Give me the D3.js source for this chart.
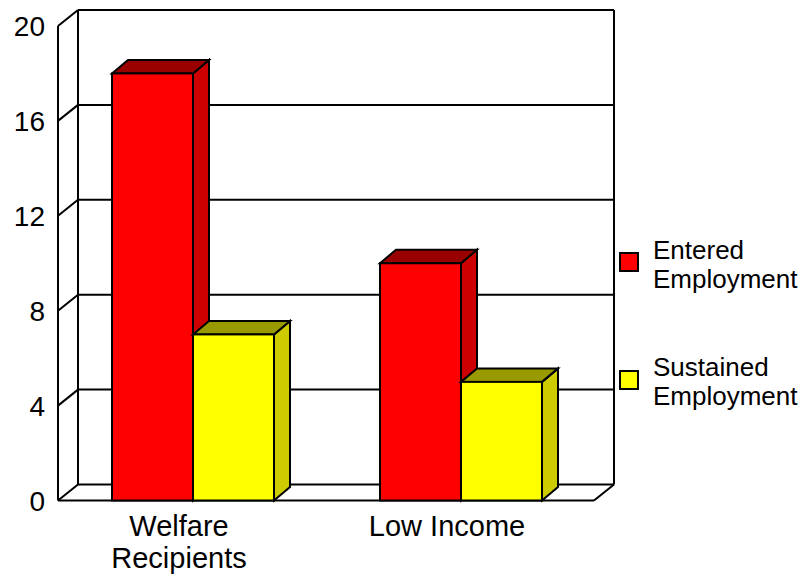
<!DOCTYPE html>
<html>
<head>
<meta charset="utf-8">
<script src="https://cdn.jsdelivr.net/npm/d3@7"></script>
<style>
  html, body { margin: 0; padding: 0; background: #fff; }
  svg { display: block; }
  text { font-family: "Liberation Sans", Arial, Helvetica, sans-serif; fill: #000; }
</style>
</head>
<body>
<svg id="chart" width="811" height="576"></svg>
<script>
// Employment outcomes by participant group
const categories = ["Welfare Recipients", "Low Income"];
const categoryLines = [["Welfare", "Recipients"], ["Low Income"]];
const series = ["Entered Employment", "Sustained Employment"];
const seriesLines = [["Entered", "Employment"], ["Sustained", "Employment"]];
const enteredValues = [18, 10];
const sustainedValues = [7, 5];
const yTicks = [0, 4, 8, 12, 16, 20];

// face colours per series: front, top, side
const palette = [
  { front: "#ff0000", top: "#990000", side: "#cc0000" },
  { front: "#ffff00", top: "#999900", side: "#cccc00" }
];

const valuesBySeries = [enteredValues, sustainedValues];

const svg = d3.select("#chart");
svg.append("rect").attr("width", 811).attr("height", 576).attr("fill", "#fff");

// front plane of the plot and the depth offset of the back wall
const frontLeft = 58, frontRight = 594;
const wallDx = 20, wallDy = -16;
const barDx = 16, barDy = -13.5;

const y = d3.scaleLinear().domain([0, 20]).range([500.5, 26]);
// category bands sit slightly right of the floor's front edge
const x0 = d3.scaleBand().domain(categories).range([frontLeft + 2, frontRight + 2]).padding(0);
const x1 = d3.scaleBand().domain(series).range([52, 214]).padding(0);

const lineStyle = sel => sel.attr("stroke", "#000").attr("stroke-width", 2).attr("fill", "none");

const walls = svg.append("g");

// back wall gridlines
walls.selectAll("line.grid").data(yTicks).join("line")
  .attr("class", "grid")
  .attr("x1", frontLeft + wallDx).attr("x2", frontRight + wallDx)
  .attr("y1", d => y(d) + wallDy).attr("y2", d => y(d) + wallDy)
  .call(lineStyle);

// back wall verticals
walls.append("line")
  .attr("x1", frontLeft + wallDx).attr("x2", frontLeft + wallDx)
  .attr("y1", y(0) + wallDy).attr("y2", y(20) + wallDy).call(lineStyle);
walls.append("line")
  .attr("x1", frontRight + wallDx).attr("x2", frontRight + wallDx)
  .attr("y1", y(0) + wallDy).attr("y2", y(20) + wallDy).call(lineStyle);

// left side wall: axis line and tick diagonals
walls.append("line")
  .attr("x1", frontLeft).attr("x2", frontLeft)
  .attr("y1", y(0)).attr("y2", y(20)).call(lineStyle);
walls.selectAll("line.diag").data(yTicks).join("line")
  .attr("class", "diag")
  .attr("x1", frontLeft).attr("x2", frontLeft + wallDx)
  .attr("y1", d => y(d)).attr("y2", d => y(d) + wallDy)
  .call(lineStyle);

// floor front edge and right edge
walls.append("line")
  .attr("x1", frontLeft).attr("x2", frontRight)
  .attr("y1", y(0)).attr("y2", y(0)).call(lineStyle);
walls.append("line")
  .attr("x1", frontRight).attr("x2", frontRight + wallDx)
  .attr("y1", y(0)).attr("y2", y(0) + wallDy).call(lineStyle);

// tick labels
svg.append("g").selectAll("text").data(yTicks).join("text")
  .attr("x", 45).attr("y", d => y(d)).attr("dy", "0.36em")
  .attr("text-anchor", "end").attr("font-size", 28)
  .text(d => d);

// 3D bars
const bars = [];
categories.forEach((c, ci) => {
  series.forEach((s, si) => {
    bars.push({ category: c, series: s, si, value: valuesBySeries[si][ci] });
  });
});

const barG = svg.append("g").selectAll("g").data(bars).join("g");
barG.each(function (d) {
  const g = d3.select(this);
  const left = x0(d.category) + x1(d.series);
  const right = left + x1.bandwidth();
  const top = y(d.value), bottom = y(0);
  const col = palette[d.si];
  const stroke = el => el.attr("stroke", "#000").attr("stroke-width", 2).attr("stroke-linejoin", "miter");
  g.append("polygon")
    .attr("points", [[right, bottom], [right + barDx, bottom + barDy], [right + barDx, top + barDy], [right, top]].join(" "))
    .attr("fill", col.side).call(stroke);
  g.append("polygon")
    .attr("points", [[left, top], [left + barDx, top + barDy], [right + barDx, top + barDy], [right, top]].join(" "))
    .attr("fill", col.top).call(stroke);
  g.append("rect")
    .attr("x", left).attr("y", top).attr("width", right - left).attr("height", bottom - top)
    .attr("fill", col.front).call(stroke);
});

// category labels
const catG = svg.append("g").selectAll("text").data(categories).join("text")
  .attr("text-anchor", "middle").attr("font-size", 29)
  .attr("transform", d => `translate(${x0(d) + x0.bandwidth() / 2 - 15},536)`);
catG.each(function (d, i) {
  d3.select(this).selectAll("tspan").data(categoryLines[i]).join("tspan")
    .attr("x", 0).attr("dy", (t, j) => j === 0 ? 0 : 32)
    .text(t => t);
});

// legend
const legendTop = [253, 371];
const legend = svg.append("g").selectAll("g").data(series).join("g")
  .attr("transform", (d, i) => `translate(620,${legendTop[i]})`);
legend.append("rect")
  .attr("width", 18).attr("height", 18)
  .attr("fill", (d, i) => palette[i].front)
  .attr("stroke", "#000").attr("stroke-width", 2);
legend.append("text")
  .attr("font-size", 26)
  .attr("y", (d, i) => i === 0 ? 6 : 5)
  .each(function (d, i) {
    d3.select(this).selectAll("tspan").data(seriesLines[i]).join("tspan")
      .attr("x", 33).attr("dy", (t, j) => j === 0 ? 0 : 29)
      .text(t => t);
  });
</script>
</body>
</html>
